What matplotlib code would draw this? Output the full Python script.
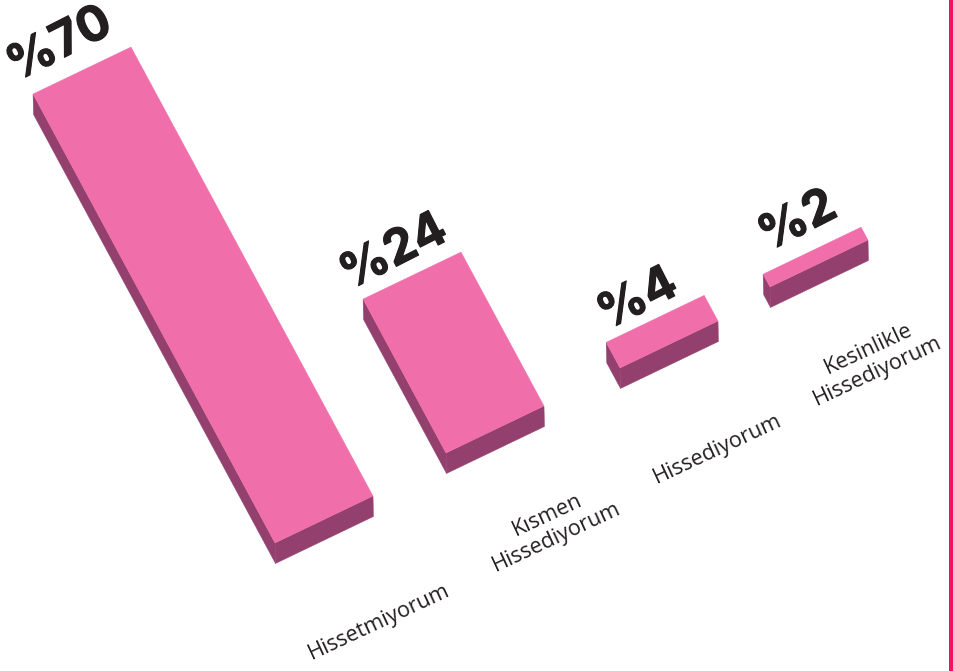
import matplotlib
matplotlib.use("Agg")
import matplotlib.pyplot as plt
import matplotlib.patheffects as pe
from matplotlib.patches import Rectangle
from matplotlib.transforms import Affine2D

plt.rcParams['font.family'] = ['Open Sans', 'DejaVu Sans']

categories = ["Hissetmiyorum", "Kısmen\nHissediyorum", "Hissediyorum", "Kesinlikle\nHissediyorum"]
values = [70, 24, 4, 2]
value_labels = ["%70", "%24", "%4", "%2"]

# Front corner of each bar on the slanted baseline, pixels
base_x = [275, 446, 620, 770]
base_y = [543, 453, 368, 287]

# Oblique axes in pixels
width_vec = (98, -47)
value_vec = (-3.457, -6.414)
depth_vec = (0.5, 20.5)

label_xy = [(379, 622), (552, 526), (718, 449), (873, 360)]
value_xy = [(60, 45), (394, 253), (638, 300), (798, 222)]

TOP = "#F06EAA"
SIDE = "#93406E"
LINE = "#EE1460"
INK = "#231F20"


# Maps unit square coordinates onto two pixel vectors starting at a bar's corner
def oblique(u, v, x0, y0):
    return Affine2D.from_values(u[0], u[1], v[0], v[1], x0, y0)


fig = plt.figure(figsize=(9.54, 6.71), dpi=100)
ax = fig.add_axes([0, 0, 1, 1])
ax.set_xlim(0, 954)
ax.set_ylim(671, 0)
ax.axis("off")

for i, val in enumerate(values):
    x0, y0 = base_x[i], base_y[i]
    top = oblique(width_vec, value_vec, x0, y0) + ax.transData
    front = oblique(width_vec, depth_vec, x0, y0) + ax.transData
    side = oblique(value_vec, depth_vec, x0, y0) + ax.transData
    ax.add_patch(Rectangle((0, 0), val, 1, transform=side, fc=SIDE, ec=SIDE, lw=0.3))
    ax.add_patch(Rectangle((0, 0), 1, 1, transform=front, fc=SIDE, ec=SIDE, lw=0.3))
    ax.add_patch(Rectangle((0, 0), 1, val, transform=top, fc=TOP, ec=TOP, lw=0.3))

    ax.text(value_xy[i][0], value_xy[i][1], value_labels[i], fontsize=35, family="Inter", weight="bold",
            color=INK, rotation=27, rotation_mode="anchor", ha="center", va="center",
            path_effects=[pe.withStroke(linewidth=0.8, foreground=INK)])
    ax.text(label_xy[i][0], label_xy[i][1], categories[i], fontsize=15.6, color=INK,
            rotation=25, rotation_mode="anchor", ha="center", va="center", linespacing=1.15)

ax.axvspan(949, 953, color=LINE, lw=0)

fig.savefig("out.png", dpi=100)
